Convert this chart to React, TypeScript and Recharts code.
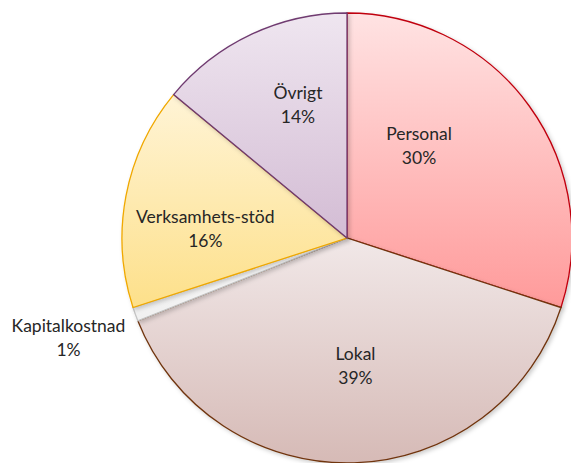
import React from 'react';
import { PieChart, Pie, Cell } from 'recharts';

// Cost shares, clockwise from 12 o'clock
const categories = ['Personal', 'Lokal', 'Kapitalkostnad', 'Verksamhets-stöd', 'Övrigt'];
const shares = [30, 39, 1, 16, 14];

const data = categories.map((name, i) => ({ name, value: shares[i] }));

// gradient top/bottom + outline for each slice
const fills = [
    { top: '#ffe3e3', bottom: '#ff9a9a', stroke: '#c0000f' },
    { top: '#f1e8e8', bottom: '#d6bab6', stroke: '#70340f' },
    { top: '#f8f8f8', bottom: '#f0f0f0', stroke: '#c4c4c4' },
    { top: '#fff4d6', bottom: '#fde08a', stroke: '#f0a800' },
    { top: '#efe6f0', bottom: '#d3bcd4', stroke: '#6f3a70' },
];

// where each label sits: distance from centre and angle nudge (deg)
const labelPlacement = [
    { r: 117, shift: 16 },
    { r: 128, shift: 2 },
    { r: 296, shift: 0 },
    { r: 142, shift: 7 },
    { r: 142, shift: -5 },
];

const RAD = Math.PI / 180;

function renderLabel(props: any) {
    const { cx, cy, midAngle, index, name, value } = props;
    const p = labelPlacement[index];
    const a = midAngle + p.shift;
    const x = cx + Math.cos(-a * RAD) * p.r;
    const y = cy + Math.sin(-a * RAD) * p.r;
    return (
        <text
            x={x}
            y={y}
            textAnchor="middle"
            fill="#262626"
            fontFamily="Lato, sans-serif"
            fontSize={17.5}
        >
            <tspan x={x} dy={-6}>{name}</tspan>
            <tspan x={x} dy={24}>{value}%</tspan>
        </text>
    );
}

export default function App() {
    return (
        <div style={{ position: 'absolute', left: 0, top: 0, background: '#fff' }}>
            <PieChart width={571} height={463} margin={{ top: 0, right: 0, bottom: 0, left: 0 }}>
                <defs>
                    {fills.map((f, i) => (
                        <linearGradient key={i} id={`grad${i}`} x1="0" y1="0" x2="0" y2="1">
                            <stop offset="0%" stopColor={f.top} />
                            <stop offset="100%" stopColor={f.bottom} />
                        </linearGradient>
                    ))}
                    <filter id="shadow" x="-10%" y="-10%" width="120%" height="120%">
                        <feDropShadow dx="2" dy="2" stdDeviation="2" floodColor="#000" floodOpacity="0.2" />
                    </filter>
                </defs>
                <Pie
                    data={data}
                    dataKey="value"
                    nameKey="name"
                    cx={347}
                    cy={238}
                    outerRadius={225}
                    startAngle={90}
                    endAngle={-270}
                    label={renderLabel}
                    labelLine={false}
                    isAnimationActive={false}
                    style={{ filter: 'url(#shadow)' }}
                >
                    {data.map((d, i) => (
                        <Cell key={d.name} fill={`url(#grad${i})`} stroke={fills[i].stroke} strokeWidth={1.3} />
                    ))}
                </Pie>
            </PieChart>
        </div>
    );
}
